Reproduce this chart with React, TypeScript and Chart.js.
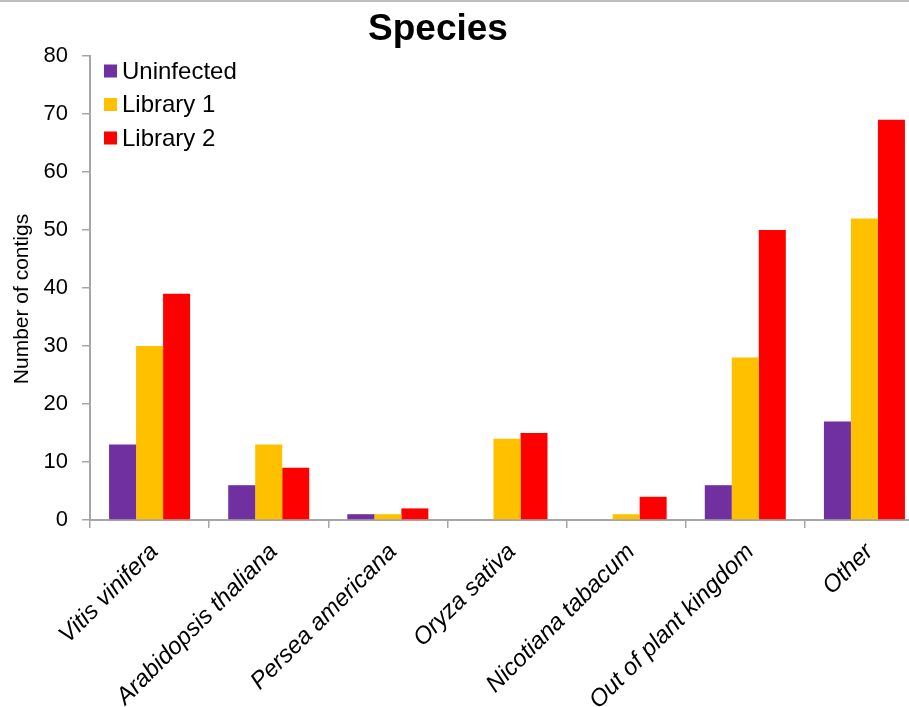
import React, { useEffect, useRef } from "react";
import { Chart, registerables } from "chart.js";

Chart.register(...registerables);

const categories = [
  "Vitis vinifera",
  "Arabidopsis thaliana",
  "Persea americana",
  "Oryza sativa",
  "Nicotiana tabacum",
  "Out of plant kingdom",
  "Other",
];
const seriesNames = ["Uninfected", "Library 1", "Library 2"];
const uninfected = [13, 6, 1, 0, 0, 6, 17];
const library1 = [30, 13, 1, 14, 1, 28, 52];
const library2 = [39, 9, 2, 15, 4, 50, 69];
const seriesColors = ["#7030A0", "#FFC000", "#FF0000"];
const chartTitle = "Species";
const yAxisTitle = "Number of contigs";
const yMin = 0;
const yMax = 80;
const yStep = 10;

const FONT = "'Liberation Sans', Arial, sans-serif";

const titlePlugin = {
  id: "customTitle",
  afterDraw(chart: any) {
    const ctx = chart.ctx;
    ctx.save();
    ctx.font = `bold 37px ${FONT}`;
    ctx.fillStyle = "#000";
    ctx.textAlign = "center";
    ctx.textBaseline = "alphabetic";
    ctx.fillText(chartTitle, 438, 40);
    // y-axis title
    ctx.font = `21px ${FONT}`;
    ctx.translate(22, 299);
    ctx.rotate(-Math.PI / 2);
    ctx.textBaseline = "middle";
    ctx.fillText(yAxisTitle, 0, 0);
    ctx.restore();
  },
};

const legendPlugin = {
  id: "insideLegend",
  afterDraw(chart: any) {
    const ctx = chart.ctx;
    const area = chart.chartArea;
    ctx.save();
    ctx.font = `24px ${FONT}`;
    ctx.textBaseline = "middle";
    ctx.textAlign = "left";
    chart.data.datasets.forEach((ds: any, i: number) => {
      const cy = area.top + 15 + i * 33.5;
      const bx = area.left + 14;
      ctx.fillStyle = ds.backgroundColor;
      ctx.fillRect(bx, cy - 6.5, 13, 13);
      ctx.fillStyle = "#000";
      ctx.fillText(ds.label, bx + 18, cy + 1);
    });
    ctx.restore();
  },
};

export default function App() {
  const canvasRef = useRef<HTMLCanvasElement | null>(null);

  useEffect(() => {
    if (!canvasRef.current) return;
    const series = [uninfected, library1, library2];
    const chart = new Chart(canvasRef.current, {
      type: "bar",
      data: {
        labels: categories,
        datasets: series.map((d, i) => ({
          label: seriesNames[i],
          data: d,
          backgroundColor: seriesColors[i],
          borderWidth: 0,
          categoryPercentage: 0.68,
          barPercentage: 1,
        })),
      },
      options: {
        animation: false,
        responsive: true,
        maintainAspectRatio: false,
        layout: { padding: { top: 56, left: 0, right: 0, bottom: 0 } },
        plugins: {
          legend: { display: false },
          title: { display: false },
          tooltip: { enabled: false },
        },
        scales: {
          x: {
            grid: {
              drawOnChartArea: false,
              tickLength: 8,
              color: "#a6a6a6",
              lineWidth: 1.5,
            },
            border: { color: "#a6a6a6", width: 2 },
            ticks: {
              minRotation: 45,
              maxRotation: 45,
              autoSkip: false,
              padding: 10,
              labelOffset: 5,
              color: "#000",
              font: { family: FONT, size: 24, style: "italic" },
            },
            afterFit: (scale: any) => {
              scale.height = 187;
            },
          },
          y: {
            min: yMin,
            max: yMax,
            grid: {
              drawOnChartArea: false,
              tickLength: 8,
              color: "#a6a6a6",
              lineWidth: 1.5,
            },
            border: { color: "#a6a6a6", width: 2 },
            ticks: {
              stepSize: yStep,
              padding: 14,
              color: "#000",
              font: { family: FONT, size: 22 },
            },
            title: { display: false },
            afterFit: (scale: any) => {
              scale.width = 90;
            },
          },
        },
      },
      plugins: [titlePlugin, legendPlugin],
    });
    return () => chart.destroy();
  }, []);

  return (
    <div
      style={{
        position: "absolute",
        left: 0,
        top: 0,
        width: 909,
        height: 707,
        overflow: "hidden",
        background: "#fff",
      }}
    >
      <div style={{ position: "absolute", left: 0, top: 0, width: 924, height: 707 }}>
        <canvas ref={canvasRef} />
      </div>
      <div
        style={{
          position: "absolute",
          left: 0,
          top: 0,
          width: 909,
          height: 2,
          background: "#bdbdbd",
        }}
      />
    </div>
  );
}
